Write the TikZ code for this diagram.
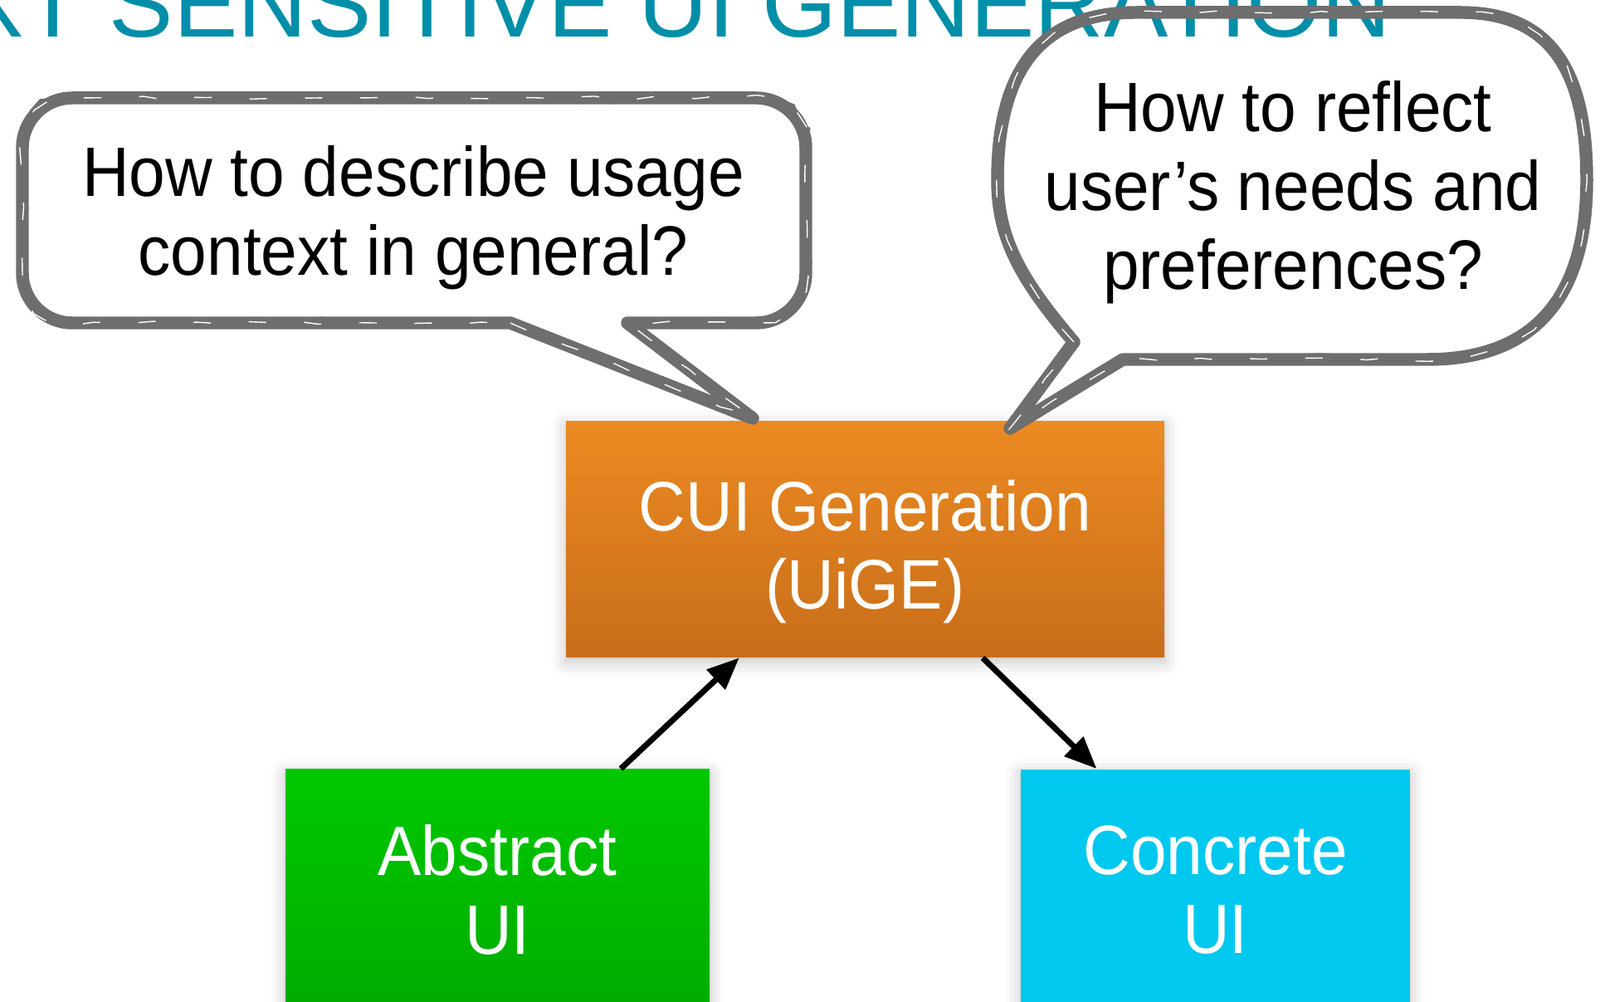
\documentclass[tikz,border=0pt]{standalone}
\usepackage{fontspec}
\setmainfont{Liberation Sans}[FakeStretch=0.93]
\newfontfamily\titlefont{Liberation Sans}
\usetikzlibrary{arrows.meta,calc,shadows.blur,decorations.pathmorphing}

\definecolor{titleteal}{RGB}{0,142,168}
\definecolor{grunge}{RGB}{110,110,110}
\definecolor{cuitop}{RGB}{236,138,34}
\definecolor{cuibot}{RGB}{200,110,26}
\definecolor{abstop}{RGB}{0,200,0}
\definecolor{absbot}{RGB}{0,172,0}
\definecolor{concyan}{RGB}{0,200,238}

\tikzset{
  uibox/.style={inner sep=0pt, align=center, text=white,
    font=\fontsize{24}{27}\selectfont,
    blur shadow={shadow xshift=0pt, shadow yshift=-1.5pt,
      shadow blur radius=5pt, shadow opacity=25}},
  boxtext/.style={inner sep=0pt, align=center, text=white,
    font=\fontsize{24}{27}\selectfont},
  asktext/.style={inner sep=0pt, align=center, text=black,
    font=\fontsize{24}{27}\selectfont},
  bubble/.style={draw=grunge, line width=4.4pt, line join=round},
  bubblefray/.style={draw=grunge, line width=1pt, decorate,
    decoration={random steps, segment length=5pt, amplitude=1.7pt}},
  bubblescratch/.style={draw=white, line width=0.4pt, decorate,
    decoration={random steps, segment length=7pt, amplitude=0.6pt},
    dash pattern=on 6pt off 13pt},
  flow/.style={-{Triangle[length=11pt,width=9pt]}, line width=2pt}
}

% bubble outlines
\newcommand{\leftbubble}{(lb-l) -- (lb-tip) -- (lb-r) -- (9.11,8.18)
  arc[start angle=-90, end angle=0, radius=0.6] -- (9.71,10.29)
  arc[start angle=0, end angle=90, radius=0.6] -- (0.87,10.89)
  arc[start angle=90, end angle=180, radius=0.6] -- (0.27,8.78)
  arc[start angle=180, end angle=270, radius=0.6] -- cycle}
\newcommand{\rightbubble}{(rb-l) .. controls (12.3,8.7) and (12.02,9.2) .. (12.02,9.9)
  .. controls (12.02,11.3) and (12.6,11.92) .. (13.7,11.92) -- (17.6,11.92)
  .. controls (18.7,11.92) and (19.12,11.2) .. (19.12,9.9)
  .. controls (19.12,8.5) and (18.5,7.74) .. (17.2,7.74)
  -- (rb-r) -- (rb-tip) -- cycle}

\begin{document}
\begin{tikzpicture}
    \useasboundingbox (0,0) rectangle (19.28,12.07);
    \clip (0,0) rectangle (19.28,12.07);

    % title, mostly outside the frame
    \node[anchor=base east, inner sep=0pt, text=titleteal,
          font=\titlefont\fontsize{33}{33}\selectfont] (title) at (16.77,11.62)
          {CONTEXT SENSITIVE UI GENERATION};

    % the three boxes
    \node[uibox, anchor=north, minimum width=7.21cm, minimum height=2.84cm,
          top color=cuitop, bottom color=cuibot] (cui) at (10.425,7.00) {};
    \node[boxtext] (cuitext) at ($(cui.center)+(0,-0.15)$) {CUI Generation\\(UiGE)};
    \node[uibox, anchor=north, minimum width=5.11cm, minimum height=2.9cm,
          top color=abstop, bottom color=absbot] (abstract) at (5.995,2.81)
          {Abstract\\UI};
    \node[uibox, anchor=north, minimum width=4.69cm, minimum height=2.9cm,
          fill=concyan] (concrete) at (14.645,2.81)
          {Concrete\\UI};

    % arrows
    \draw[flow] ($(abstract.north west)!0.79!(abstract.north east)$)
             -- ($(cui.south west)!0.29!(cui.south east)$);
    \draw[flow] ($(cui.south west)!0.696!(cui.south east)$)
             -- ($(concrete.north west)!0.196!(concrete.north east)$);

    % speech bubbles
    \coordinate (lb-l) at (6.15,8.18);
    \coordinate (lb-tip) at (9.07,7.03);
    \coordinate (lb-r) at (7.56,8.18);
    \coordinate (rb-l) at (12.94,7.95);
    \coordinate (rb-tip) at (12.17,6.91);
    \coordinate (rb-r) at (13.53,7.74);

    \draw[bubble] \leftbubble;
    \draw[bubblefray] \leftbubble;
    \draw[bubblescratch] \leftbubble;
    \draw[bubble] \rightbubble;
    \draw[bubblefray] \rightbubble;
    \draw[bubblescratch] \rightbubble;

    \node[asktext] (askctx) at (4.98,9.45) {How to describe usage\\context in general?};
    \node[asktext] (askpref) at (15.58,9.75) {How to reflect\\user’s needs and\\preferences?};
\end{tikzpicture}
\end{document}
